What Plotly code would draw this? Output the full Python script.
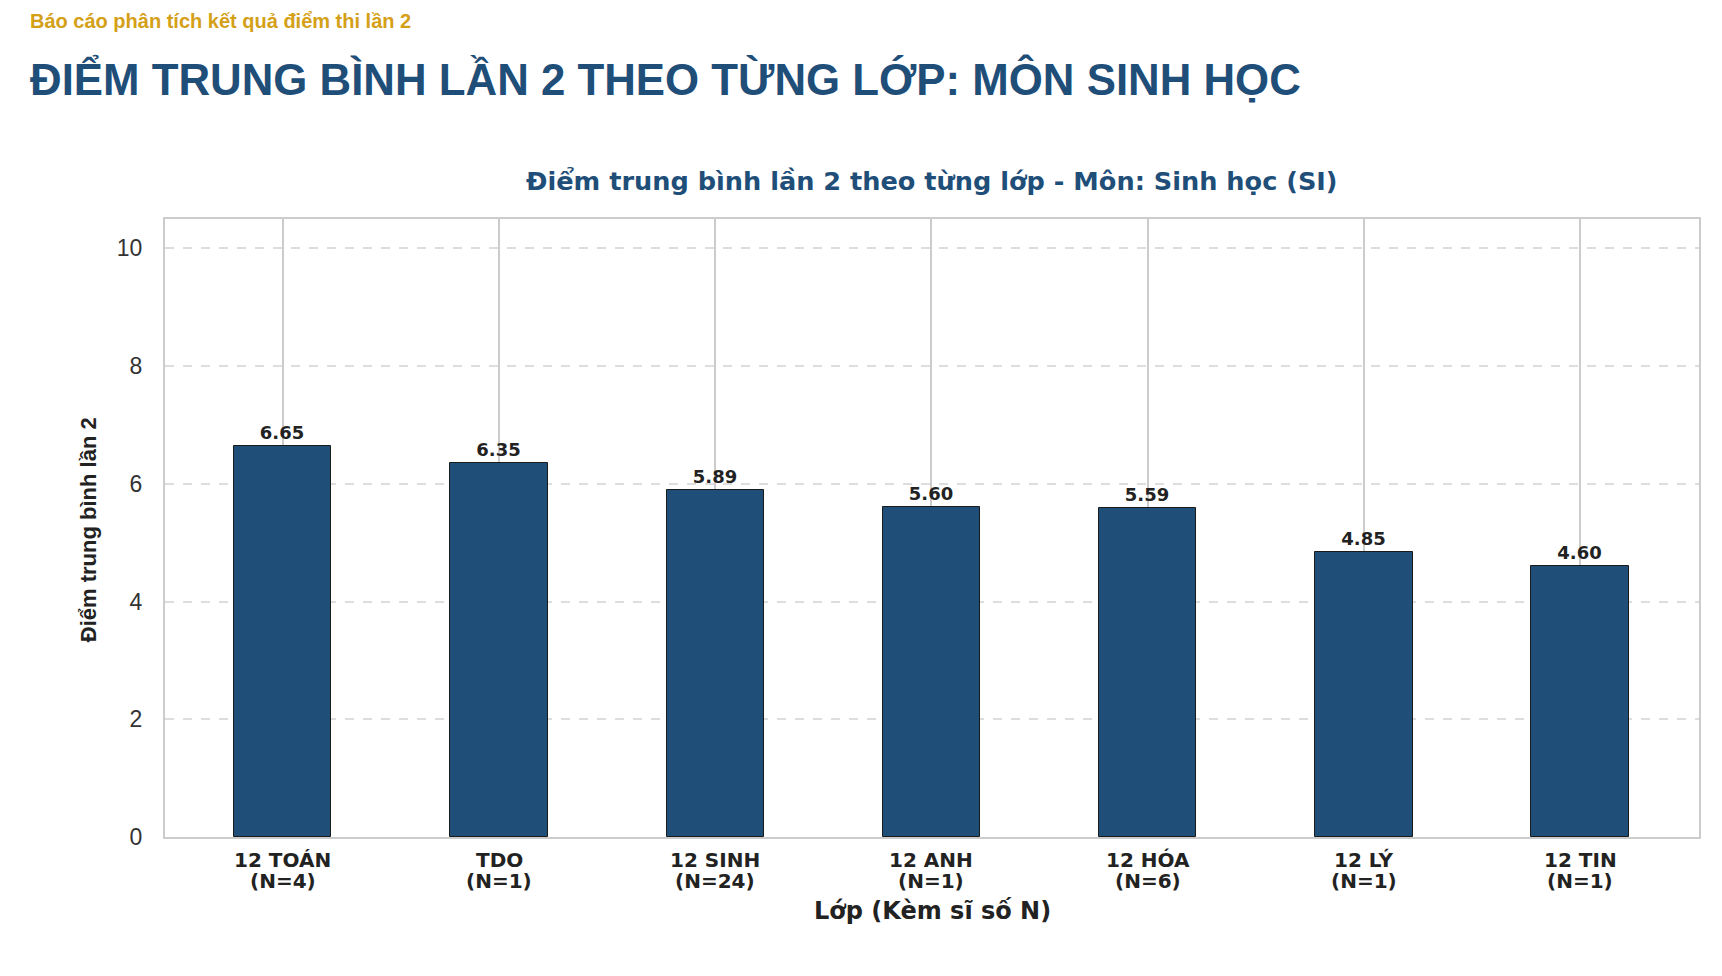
import plotly.graph_objects as go

lop = ["12 TOÁN", "TDO", "12 SINH", "12 ANH", "12 HÓA", "12 LÝ", "12 TIN"]
si_so = [4, 1, 24, 1, 6, 1, 1]
diem_tb = [6.65, 6.35, 5.89, 5.60, 5.59, 4.85, 4.60]
y_ticks = [0, 2, 4, 6, 8, 10]

XANH = "#1F4E79"
VANG = "#D4A017"
CHU = "#222222"

fig = go.Figure()
fig.add_trace(go.Bar(
    x=lop,
    y=diem_tb,
    width=0.45,
    marker=dict(color=XANH, line=dict(color="#1a1a1a", width=1)),
    text=[f"{v:.2f}" for v in diem_tb],
    textposition="outside",
    textfont=dict(family="DejaVu Sans", size=18, color=CHU, weight="bold"),
    cliponaxis=False,
    hoverinfo="skip",
))

fig.update_xaxes(
    range=[-0.545, 6.55],
    showgrid=True, gridcolor="#cccccc", gridwidth=1.5,
    showline=True, linecolor="#cccccc", linewidth=2, mirror=True,
    showticklabels=False,
    title=None,
)
fig.update_yaxes(
    range=[0, 10.5],
    tickvals=y_ticks,
    showgrid=True, gridcolor="#dddddd", gridwidth=1.5, griddash="dash",
    showline=True, linecolor="#cccccc", linewidth=2, mirror=True,
    zeroline=False,
    tickfont=dict(family="Liberation Sans", size=23, color="#333333"),
    ticklabelstandoff=16,
    title=None,
)

# nhãn trục x hai dòng: tên lớp và sĩ số
nhan_font = dict(family="DejaVu Sans", size=20, color=CHU, weight="bold")
for ten, n in zip(lop, si_so):
    fig.add_annotation(x=ten, y=-0.038, xref="x", yref="paper", text=ten,
                       showarrow=False, yanchor="middle", font=nhan_font)
    fig.add_annotation(x=ten, y=-0.0712, xref="x", yref="paper", text=f"(N={n})",
                       showarrow=False, yanchor="middle", font=nhan_font)

chu = [
    dict(text="Báo cáo phân tích kết quả điểm thi lần 2", x=-0.0895, y=1.320,
         xanchor="left", font=dict(family="Liberation Sans", size=20, color=VANG, weight="bold")),
    dict(text="ĐIỂM TRUNG BÌNH LẦN 2 THEO TỪNG LỚP: MÔN SINH HỌC", x=-0.0895, y=1.2265,
         xanchor="left", font=dict(family="Liberation Sans", size=43.8, color=XANH, weight="bold")),
    dict(text="Điểm trung bình lần 2 theo từng lớp - Môn: Sinh học (SI)", x=0.5, y=1.0615,
         xanchor="center", font=dict(family="DejaVu Sans", size=25.6, color=XANH, weight="bold")),
    dict(text="Lớp (Kèm sĩ số N)", x=0.5, y=-0.1197,
         xanchor="center", font=dict(family="DejaVu Sans", size=24, color=CHU, weight="bold")),
    dict(text="Điểm trung bình lần 2", x=-0.0502, y=0.498, textangle=-90,
         xanchor="center", font=dict(family="Liberation Sans", size=22, color=CHU, weight="bold")),
]
for c in chu:
    fig.add_annotation(xref="paper", yref="paper", yanchor="middle", showarrow=False, **c)

fig.update_layout(
    width=1722, height=976,
    margin=dict(l=157, r=31, t=211, b=147),
    plot_bgcolor="white", paper_bgcolor="white",
    showlegend=False,
    bargap=0,
)

fig.write_html("out.html")
